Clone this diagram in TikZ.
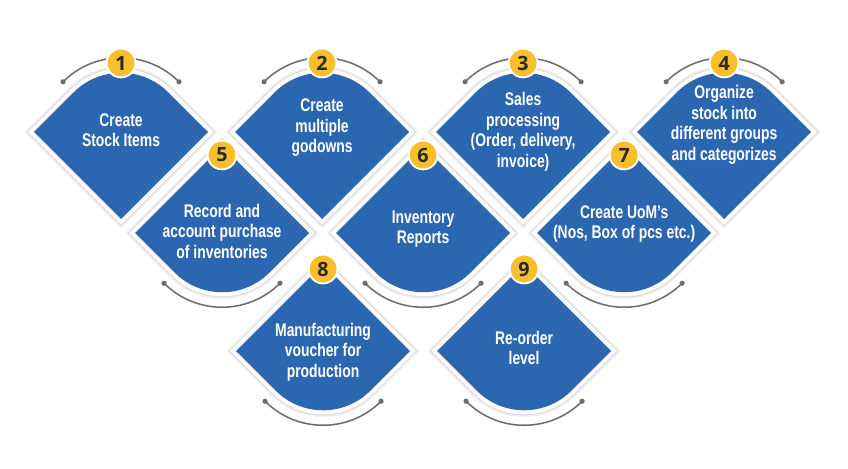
\documentclass[tikz,border=0pt]{standalone}
\usepackage{fontspec}
\newfontfamily\labelfont{Liberation Sans}[FakeStretch=0.76]
\newfontfamily\numfont{Open Sans}
\usetikzlibrary{positioning, shadows}

\definecolor{stockblue}{HTML}{2B66B0}
\definecolor{badgeyellow}{HTML}{F8BE2C}
\definecolor{numtext}{HTML}{2A2A2A}
\definecolor{rimgrey}{HTML}{6E6E6E}

\tikzstyle{centre} = [coordinate]
\tikzstyle{tile} = [fill=stockblue, preaction={draw=black!6, line width=9.5pt}, preaction={draw=black!13, line width=7.4pt}, preaction={draw=white, line width=5.7pt}]
\tikzstyle{tiletext} = [text=white, align=center, inner sep=0pt, font=\labelfont\bfseries\fontsize{13}{14.6}\selectfont]
\tikzstyle{numbadge} = [circle, fill=badgeyellow, draw=white, line width=1.3pt, minimum size=0.72cm, inner sep=0pt, text=numtext, font=\numfont\bfseries\fontsize{14}{14}\selectfont, drop shadow={opacity=0.2, shadow xshift=0.3pt, shadow yshift=-0.6pt}]
\tikzstyle{rim} = [draw=rimgrey, line width=1.1pt]

% tile with rounded top, rim above
\newcommand{\tiletop}[1]{%
  \begin{scope}[shift={(#1)}]
    \path[tile] (-87,0) -- (-47.4,39.6) arc[start angle=135, end angle=45, radius=67] -- (87,0) -- (0,-87) -- cycle;
    \draw[rim] (58,50.2) arc[start angle=45, end angle=135, radius=82];
    \fill[rimgrey] (58,50.2) circle[radius=2.6] (-58,50.2) circle[radius=2.6];
  \end{scope}}
% tile with rounded bottom, rim below
\newcommand{\tilebottom}[1]{%
  \begin{scope}[shift={(#1)}]
    \path[tile] (-87,0) -- (0,87) -- (87,0) -- (47.4,-39.6) arc[start angle=-45, end angle=-135, radius=67] -- cycle;
    \draw[rim] (58,-50.2) arc[start angle=-45, end angle=-135, radius=82];
    \fill[rimgrey] (58,-50.2) circle[radius=2.6] (-58,-50.2) circle[radius=2.6];
  \end{scope}}

\begin{document}
\begin{tikzpicture}[x=0.025cm, y=0.025cm, node distance=5.025cm]
\fill[white] (0,0) rectangle (848,468);
\useasboundingbox (0,0) rectangle (848,468);

\node [centre] (c1) at (121,336) {};
\node [centre, right=of c1] (c2) {};
\node [centre, right=of c2] (c3) {};
\node [centre, right=of c3] (c4) {};
\node [centre, below right=2.525cm and 2.525cm of c1] (c5) {};
\node [centre, right=of c5] (c6) {};
\node [centre, right=of c6] (c7) {};
\node [centre, below right=2.95cm and 2.525cm of c5] (c8) {};
\node [centre, right=of c8] (c9) {};

\tiletop{c1} \tiletop{c2} \tiletop{c3} \tiletop{c4}
\tilebottom{c5} \tilebottom{c6} \tilebottom{c7}
\tilebottom{c8} \tilebottom{c9}

\node [tiletext, yshift=0.05cm] (t1) at (c1) {Create\\Stock Items};
\node [tiletext, yshift=0.1cm] (t2) at (c2) {Create\\multiple\\godowns};
\node [tiletext] (t3) at (c3) {Sales\\processing\\(Order, delivery,\\invoice)};
\node [tiletext, yshift=0.18cm] (t4) at (c4) {Organize\\stock into\\different groups\\and categorizes};
\node [tiletext, yshift=0.05cm] (t5) at (c5) {Record and\\account purchase\\of inventories};
\node [tiletext, yshift=0.1cm] (t6) at (c6) {Inventory\\Reports};
\node [tiletext, yshift=0.22cm] (t7) at (c7) {Create UoM’s\\(Nos, Box of pcs etc.)};
\node [tiletext, yshift=-0.03cm] (t8) at (c8) {Manufacturing\\voucher for\\production};
\node [tiletext, yshift=0.08cm] (t9) at (c9) {Re-order\\level};

\node [numbadge, yshift=1.725cm] (n1) at (c1) {1};
\node [numbadge, yshift=1.725cm] (n2) at (c2) {2};
\node [numbadge, yshift=1.725cm] (n3) at (c3) {3};
\node [numbadge, yshift=1.725cm] (n4) at (c4) {4};
\node [numbadge, yshift=1.95cm] (n5) at (c5) {5};
\node [numbadge, yshift=1.95cm] (n6) at (c6) {6};
\node [numbadge, yshift=1.95cm] (n7) at (c7) {7};
\node [numbadge, yshift=2.05cm] (n8) at (c8) {8};
\node [numbadge, yshift=2.05cm] (n9) at (c9) {9};
\end{tikzpicture}
\end{document}
